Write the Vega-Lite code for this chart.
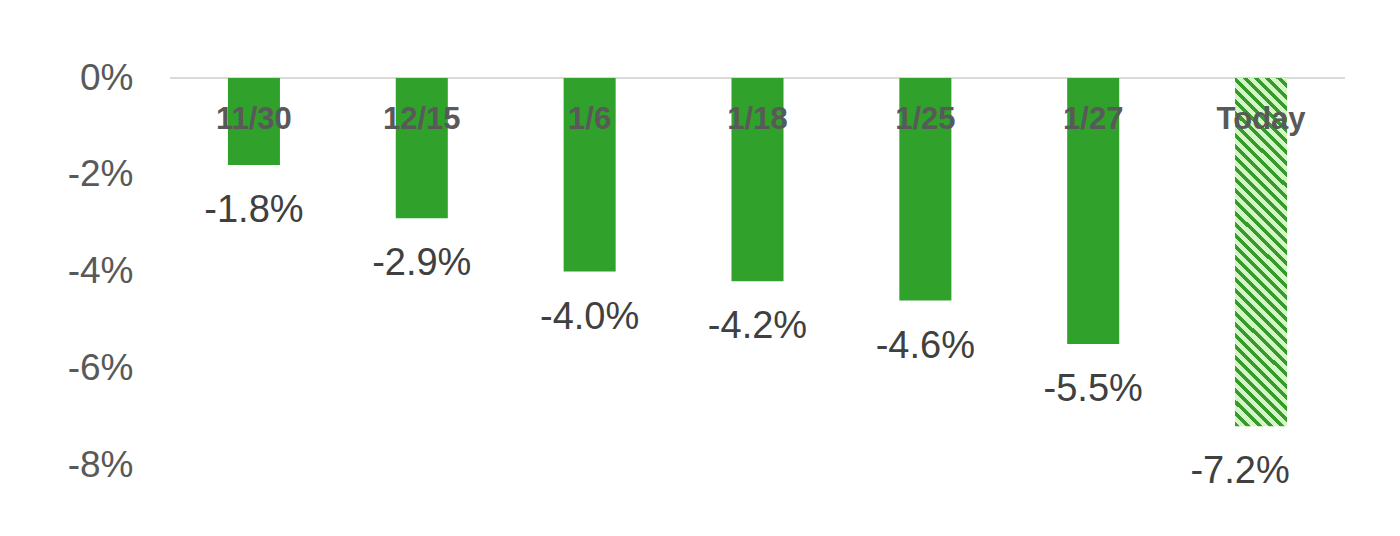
{
  "$schema": "https://vega.github.io/schema/vega-lite/v6.json",
  "autosize": "none",
  "width": 1175,
  "height": 387,
  "padding": {"left": 170, "top": 78, "right": 55, "bottom": 71},
  "background": "white",
  "config": {
    "view": {"stroke": null},
    "font": "Liberation Sans",
    "locale": {"number": {"decimal": ".", "thousands": ",", "grouping": [3], "currency": ["$", ""], "minus": "-"}}
  },
  "data": {
    "values": [
      {"cat": "11/30", "v": -0.018},
      {"cat": "12/15", "v": -0.029},
      {"cat": "1/6", "v": -0.040},
      {"cat": "1/18", "v": -0.042},
      {"cat": "1/25", "v": -0.046},
      {"cat": "1/27", "v": -0.055},
      {"cat": "Today", "v": -0.072}
    ]
  },
  "encoding": {
    "x": {"field": "cat", "type": "nominal", "sort": null, "axis": null, "scale": {"paddingInner": 0.69, "paddingOuter": 0.345}},
    "y": {"field": "v", "type": "quantitative", "scale": {"domain": [-0.08, 0], "nice": false},
      "axis": {"values": [-0.08, -0.06, -0.04, -0.02, 0], "format": ".0%", "domain": false, "ticks": false, "grid": false, "labelFontSize": 37, "labelColor": "#595959", "labelPadding": 37, "title": null, "labelFont": "Liberation Sans"}}
  },
  "layer": [
    {
      "mark": {"type": "rule", "color": "#d9d9d9", "strokeWidth": 2},
      "encoding": {"y": {"datum": 0}, "x": {"value": 0}, "x2": {"value": 1175}}
    },
    {
      "transform": [{"filter": "datum.cat != 'Today'"}],
      "mark": {"type": "bar", "color": "#30A12B"},
      "encoding": {"y2": {"datum": 0}}
    },
    {
      "transform": [{"filter": "datum.cat == 'Today'"}],
      "mark": {"type": "bar", "color": {
        "gradient": "linear", "x1": 0, "y1": 1, "x2": 0.167, "y2": -0.124,
        "stops": [
          {"offset": 0, "color": "#379A2C"}, {"offset": 0.0125, "color": "#379A2C"}, {"offset": 0.0125, "color": "#D4F5C4"}, {"offset": 0.02778, "color": "#D4F5C4"},
          {"offset": 0.02778, "color": "#379A2C"}, {"offset": 0.04028, "color": "#379A2C"}, {"offset": 0.04028, "color": "#D4F5C4"}, {"offset": 0.05556, "color": "#D4F5C4"},
          {"offset": 0.05556, "color": "#379A2C"}, {"offset": 0.06806, "color": "#379A2C"}, {"offset": 0.06806, "color": "#D4F5C4"}, {"offset": 0.08333, "color": "#D4F5C4"},
          {"offset": 0.08333, "color": "#379A2C"}, {"offset": 0.09583, "color": "#379A2C"}, {"offset": 0.09583, "color": "#D4F5C4"}, {"offset": 0.11111, "color": "#D4F5C4"},
          {"offset": 0.11111, "color": "#379A2C"}, {"offset": 0.12361, "color": "#379A2C"}, {"offset": 0.12361, "color": "#D4F5C4"}, {"offset": 0.13889, "color": "#D4F5C4"},
          {"offset": 0.13889, "color": "#379A2C"}, {"offset": 0.15139, "color": "#379A2C"}, {"offset": 0.15139, "color": "#D4F5C4"}, {"offset": 0.16667, "color": "#D4F5C4"},
          {"offset": 0.16667, "color": "#379A2C"}, {"offset": 0.17917, "color": "#379A2C"}, {"offset": 0.17917, "color": "#D4F5C4"}, {"offset": 0.19444, "color": "#D4F5C4"},
          {"offset": 0.19444, "color": "#379A2C"}, {"offset": 0.20694, "color": "#379A2C"}, {"offset": 0.20694, "color": "#D4F5C4"}, {"offset": 0.22222, "color": "#D4F5C4"},
          {"offset": 0.22222, "color": "#379A2C"}, {"offset": 0.23472, "color": "#379A2C"}, {"offset": 0.23472, "color": "#D4F5C4"}, {"offset": 0.25, "color": "#D4F5C4"},
          {"offset": 0.25, "color": "#379A2C"}, {"offset": 0.2625, "color": "#379A2C"}, {"offset": 0.2625, "color": "#D4F5C4"}, {"offset": 0.27778, "color": "#D4F5C4"},
          {"offset": 0.27778, "color": "#379A2C"}, {"offset": 0.29028, "color": "#379A2C"}, {"offset": 0.29028, "color": "#D4F5C4"}, {"offset": 0.30556, "color": "#D4F5C4"},
          {"offset": 0.30556, "color": "#379A2C"}, {"offset": 0.31806, "color": "#379A2C"}, {"offset": 0.31806, "color": "#D4F5C4"}, {"offset": 0.33333, "color": "#D4F5C4"},
          {"offset": 0.33333, "color": "#379A2C"}, {"offset": 0.34583, "color": "#379A2C"}, {"offset": 0.34583, "color": "#D4F5C4"}, {"offset": 0.36111, "color": "#D4F5C4"},
          {"offset": 0.36111, "color": "#379A2C"}, {"offset": 0.37361, "color": "#379A2C"}, {"offset": 0.37361, "color": "#D4F5C4"}, {"offset": 0.38889, "color": "#D4F5C4"},
          {"offset": 0.38889, "color": "#379A2C"}, {"offset": 0.40139, "color": "#379A2C"}, {"offset": 0.40139, "color": "#D4F5C4"}, {"offset": 0.41667, "color": "#D4F5C4"},
          {"offset": 0.41667, "color": "#379A2C"}, {"offset": 0.42917, "color": "#379A2C"}, {"offset": 0.42917, "color": "#D4F5C4"}, {"offset": 0.44444, "color": "#D4F5C4"},
          {"offset": 0.44444, "color": "#379A2C"}, {"offset": 0.45694, "color": "#379A2C"}, {"offset": 0.45694, "color": "#D4F5C4"}, {"offset": 0.47222, "color": "#D4F5C4"},
          {"offset": 0.47222, "color": "#379A2C"}, {"offset": 0.48472, "color": "#379A2C"}, {"offset": 0.48472, "color": "#D4F5C4"}, {"offset": 0.5, "color": "#D4F5C4"},
          {"offset": 0.5, "color": "#379A2C"}, {"offset": 0.5125, "color": "#379A2C"}, {"offset": 0.5125, "color": "#D4F5C4"}, {"offset": 0.52778, "color": "#D4F5C4"},
          {"offset": 0.52778, "color": "#379A2C"}, {"offset": 0.54028, "color": "#379A2C"}, {"offset": 0.54028, "color": "#D4F5C4"}, {"offset": 0.55556, "color": "#D4F5C4"},
          {"offset": 0.55556, "color": "#379A2C"}, {"offset": 0.56806, "color": "#379A2C"}, {"offset": 0.56806, "color": "#D4F5C4"}, {"offset": 0.58333, "color": "#D4F5C4"},
          {"offset": 0.58333, "color": "#379A2C"}, {"offset": 0.59583, "color": "#379A2C"}, {"offset": 0.59583, "color": "#D4F5C4"}, {"offset": 0.61111, "color": "#D4F5C4"},
          {"offset": 0.61111, "color": "#379A2C"}, {"offset": 0.62361, "color": "#379A2C"}, {"offset": 0.62361, "color": "#D4F5C4"}, {"offset": 0.63889, "color": "#D4F5C4"},
          {"offset": 0.63889, "color": "#379A2C"}, {"offset": 0.65139, "color": "#379A2C"}, {"offset": 0.65139, "color": "#D4F5C4"}, {"offset": 0.66667, "color": "#D4F5C4"},
          {"offset": 0.66667, "color": "#379A2C"}, {"offset": 0.67917, "color": "#379A2C"}, {"offset": 0.67917, "color": "#D4F5C4"}, {"offset": 0.69444, "color": "#D4F5C4"},
          {"offset": 0.69444, "color": "#379A2C"}, {"offset": 0.70694, "color": "#379A2C"}, {"offset": 0.70694, "color": "#D4F5C4"}, {"offset": 0.72222, "color": "#D4F5C4"},
          {"offset": 0.72222, "color": "#379A2C"}, {"offset": 0.73472, "color": "#379A2C"}, {"offset": 0.73472, "color": "#D4F5C4"}, {"offset": 0.75, "color": "#D4F5C4"},
          {"offset": 0.75, "color": "#379A2C"}, {"offset": 0.7625, "color": "#379A2C"}, {"offset": 0.7625, "color": "#D4F5C4"}, {"offset": 0.77778, "color": "#D4F5C4"},
          {"offset": 0.77778, "color": "#379A2C"}, {"offset": 0.79028, "color": "#379A2C"}, {"offset": 0.79028, "color": "#D4F5C4"}, {"offset": 0.80556, "color": "#D4F5C4"},
          {"offset": 0.80556, "color": "#379A2C"}, {"offset": 0.81806, "color": "#379A2C"}, {"offset": 0.81806, "color": "#D4F5C4"}, {"offset": 0.83333, "color": "#D4F5C4"},
          {"offset": 0.83333, "color": "#379A2C"}, {"offset": 0.84583, "color": "#379A2C"}, {"offset": 0.84583, "color": "#D4F5C4"}, {"offset": 0.86111, "color": "#D4F5C4"},
          {"offset": 0.86111, "color": "#379A2C"}, {"offset": 0.87361, "color": "#379A2C"}, {"offset": 0.87361, "color": "#D4F5C4"}, {"offset": 0.88889, "color": "#D4F5C4"},
          {"offset": 0.88889, "color": "#379A2C"}, {"offset": 0.90139, "color": "#379A2C"}, {"offset": 0.90139, "color": "#D4F5C4"}, {"offset": 0.91667, "color": "#D4F5C4"},
          {"offset": 0.91667, "color": "#379A2C"}, {"offset": 0.92917, "color": "#379A2C"}, {"offset": 0.92917, "color": "#D4F5C4"}, {"offset": 0.94444, "color": "#D4F5C4"},
          {"offset": 0.94444, "color": "#379A2C"}, {"offset": 0.95694, "color": "#379A2C"}, {"offset": 0.95694, "color": "#D4F5C4"}, {"offset": 0.97222, "color": "#D4F5C4"},
          {"offset": 0.97222, "color": "#379A2C"}, {"offset": 0.98472, "color": "#379A2C"}, {"offset": 0.98472, "color": "#D4F5C4"}, {"offset": 1, "color": "#D4F5C4"}
        ]
      }},
      "encoding": {"y2": {"datum": 0}}
    },
    {
      "transform": [{"filter": "datum.cat != 'Today'"}],
      "mark": {"type": "text", "baseline": "middle", "align": "center", "dy": 46, "fontSize": 38, "color": "#404040", "font": "Liberation Sans"},
      "encoding": {"text": {"field": "v", "type": "quantitative", "format": ".1%"}}
    },
    {
      "transform": [{"filter": "datum.cat == 'Today'"}],
      "mark": {"type": "text", "baseline": "middle", "align": "center", "dx": -21, "dy": 46, "fontSize": 38, "color": "#404040", "font": "Liberation Sans"},
      "encoding": {"text": {"field": "v", "type": "quantitative", "format": ".1%"}}
    },
    {
      "mark": {"type": "text", "baseline": "middle", "align": "center", "dy": 42, "fontSize": 31, "fontWeight": "bold", "color": "#595959", "font": "Liberation Sans"},
      "encoding": {"y": {"datum": 0}, "text": {"field": "cat", "type": "nominal"}}
    }
  ]
}
